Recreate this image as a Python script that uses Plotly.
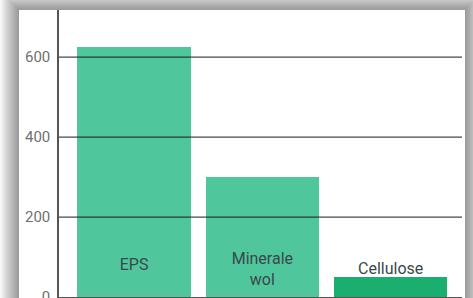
import plotly.graph_objects as go

categories = ["EPS", "Minerale<br>wol", "Cellulose"]
values = [625, 300, 50]
bar_colors = ["#4fc69c", "#4fc69c", "#1aae6f"]
tick_values = [0, 200, 400, 600]
tick_labels = ["0", "200", "400", "600"]

# label placement (style constants, in axis units)
label_y = [77, 66, 67]

W, H = 473, 298
L, R, T, B = 59, 11, 10, 1
pw, ph = W - L - R, H - T - B

def xp(px):
    return (px - L) / pw

def yp(py):
    return (H - B - py) / ph

fig = go.Figure()
fig.add_trace(go.Bar(
    x=[0, 1, 2], y=values, width=0.884,
    marker=dict(color=bar_colors, line=dict(width=0)),
    hoverinfo="skip", showlegend=False,
))
fig.add_trace(go.Scatter(
    x=[0, 1, 2], y=label_y, mode="text", text=categories,
    textfont=dict(family="Roboto", size=16, color="#3b474c"),
    hoverinfo="skip", showlegend=False, cliponaxis=False,
))

shapes = []
# card shadow
card = (19, 10, 465, 330)
for i in range(1, 20):
    shapes.append(dict(type="rect", xref="paper", yref="paper",
                       x0=xp(card[0] - i), x1=xp(card[2] + i),
                       y0=yp(card[3] + i), y1=yp(card[1] - i),
                       fillcolor="rgba(0,0,0,0.022)", line=dict(width=0), layer="below"))
shapes.append(dict(type="rect", xref="paper", yref="paper",
                   x0=xp(card[0]), x1=xp(card[2]), y0=yp(card[3]), y1=yp(card[1]),
                   fillcolor="white", line=dict(width=0), layer="below"))
# gridlines drawn above the bars
for v in tick_values[1:]:
    shapes.append(dict(type="line", xref="paper", yref="y", x0=0, x1=1, y0=v, y1=v,
                       line=dict(color="rgba(25,25,25,0.8)", width=1.2), layer="above"))

fig.update_layout(
    width=W, height=H,
    margin=dict(l=L, r=R, t=T, b=B, pad=0, autoexpand=False),
    paper_bgcolor="white", plot_bgcolor="rgba(0,0,0,0)",
    shapes=shapes,
    xaxis=dict(range=[-0.585, 2.556], showticklabels=False, showgrid=False, zeroline=False,
               showline=True, linecolor="#555", linewidth=1.5, ticks="", automargin=False),
    yaxis=dict(range=[0, 718], tickvals=tick_values, ticktext=tick_labels, showgrid=False,
               zeroline=False, showline=True, linecolor="#555", linewidth=1.5, ticks="",
               ticklen=0, ticklabelstandoff=4, automargin=False, ticklabeloverflow="allow",
               tickfont=dict(family="Roboto", size=15, color="#707070")),
    bargap=0,
)

fig.write_html("out.html", config={"displayModeBar": False},
               post_script="document.body.style.margin='0';document.body.style.overflow='hidden';")
